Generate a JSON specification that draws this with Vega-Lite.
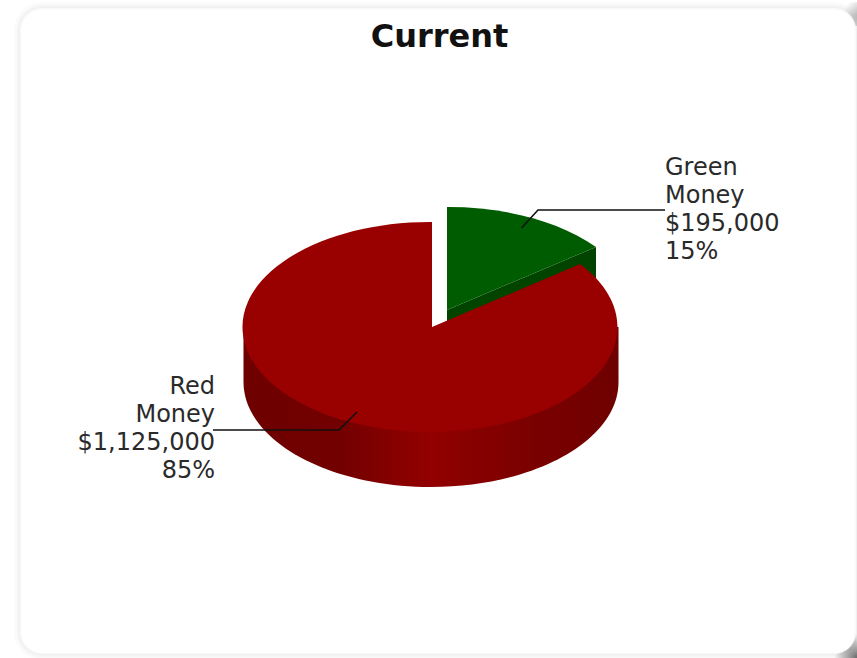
{
  "$schema": "https://vega.github.io/schema/vega-lite/v6.json",
  "width": 857,
  "height": 658,
  "padding": 0,
  "autosize": "none",
  "background": "white",
  "view": {"stroke": null},
  "title": {
    "text": "Current",
    "font": "DejaVu Sans",
    "fontSize": 32,
    "fontWeight": "bold",
    "color": "#111111",
    "anchor": "middle",
    "frame": "group",
    "dx": 11,
    "offset": -54
  },
  "data": {
    "values": [
      {"slice": "Green Money", "amount": 195000, "share": 15, "label": "Green\nMoney\n$195,000\n15%"},
      {"slice": "Red Money", "amount": 1125000, "share": 85, "label": "Red\nMoney\n$1,125,000\n85%"}
    ]
  },
  "encoding": {
    "x": {"field": "slice", "type": "nominal", "axis": null, "scale": {"type": "point", "domain": ["Green Money", "Red Money"], "range": [446, 431], "padding": 0}},
    "y": {"field": "slice", "type": "nominal", "axis": null, "scale": {"type": "point", "domain": ["Green Money", "Red Money"], "range": [312, 327], "padding": 0}}
  },
  "layer": [
    {
      "data": {"values": [{}]},
      "mark": {"type": "rect", "fill": {"gradient": "radial", "x1": 1, "y1": 1, "x2": 1, "y2": 1, "r1": 0, "r2": 1, "stops": [{"offset": 0, "color": "#666666"}, {"offset": 1, "color": "#ffffff"}]}},
      "encoding": {"x": {"value": 835}, "x2": {"value": 857}, "y": {"value": 634}, "y2": {"value": 658}}
    },
    {
      "data": {"values": [{}]},
      "mark": {"type": "rect", "fill": {"gradient": "radial", "x1": 1, "y1": 0.6, "x2": 1, "y2": 0.6, "r1": 0, "r2": 0.8, "stops": [{"offset": 0, "color": "#a8a8a8"}, {"offset": 1, "color": "#ffffff"}]}},
      "encoding": {"x": {"value": 843}, "x2": {"value": 857}, "y": {"value": 2}, "y2": {"value": 26}}
    },
    {
      "data": {"values": [{}]},
      "mark": {"type": "rect", "fill": "transparent", "stroke": "#000000", "strokeOpacity": 0.015, "strokeWidth": 12, "cornerRadius": 22},
      "encoding": {"x": {"value": 20}, "x2": {"value": 856}, "y": {"value": 8}, "y2": {"value": 654}}
    },
    {
      "data": {"values": [{}]},
      "mark": {"type": "rect", "fill": "transparent", "stroke": "#000000", "strokeOpacity": 0.02, "strokeWidth": 7, "cornerRadius": 22},
      "encoding": {"x": {"value": 20}, "x2": {"value": 856}, "y": {"value": 8}, "y2": {"value": 654}}
    },
    {
      "data": {"values": [{}]},
      "mark": {"type": "rect", "fill": "#ffffff", "stroke": "#000000", "strokeOpacity": 0.025, "strokeWidth": 3, "cornerRadius": 22},
      "encoding": {"x": {"value": 20}, "x2": {"value": 856}, "y": {"value": 8}, "y2": {"value": 654}}
    },
    {
      "transform": [{"filter": "datum.slice === 'Green Money'"}],
      "mark": {"type": "point", "size": 4, "filled": true, "opacity": 1, "strokeWidth": 0, "fill": "#004400", "shape": "M1,-2 L150,-65 L150,-30 L1,55 Z"}
    },
    {
      "transform": [{"filter": "datum.slice === 'Green Money'"}],
      "mark": {"type": "point", "size": 4, "filled": true, "opacity": 1, "strokeWidth": 0, "fill": "#005c00", "shape": "M1,-2 L1,-105 A187.5,105 0 0 1 150,-65 Z"}
    },
    {
      "transform": [{"filter": "datum.slice === 'Red Money'"}],
      "mark": {
        "type": "point", "size": 4, "filled": true, "opacity": 1, "strokeWidth": 0,
        "fill": {"gradient": "linear", "x1": 0, "y1": 0, "x2": 1, "y2": 0, "stops": [
          {"offset": 0, "color": "#6e0000"},
          {"offset": 0.25, "color": "#720000"},
          {"offset": 0.36, "color": "#800000"},
          {"offset": 0.5, "color": "#930000"},
          {"offset": 0.6, "color": "#880000"},
          {"offset": 0.78, "color": "#7a0000"},
          {"offset": 1, "color": "#6e0000"}
        ]},
        "shape": "M-187.5,0 L-187.5,55 A187.5,105 0 0 0 187.5,55 L187.5,0 Z"
      }
    },
    {
      "transform": [{"filter": "datum.slice === 'Red Money'"}],
      "mark": {"type": "point", "size": 4, "filled": true, "opacity": 1, "strokeWidth": 0, "fill": "#990000", "shape": "M1,0 L1,-105 A187.5,105 0 1 0 149,-63 Z"}
    },
    {
      "transform": [{"filter": "datum.slice === 'Green Money'"}],
      "mark": {"type": "point", "size": 4, "filled": false, "opacity": 1, "stroke": "#111111", "strokeWidth": 1.6, "shape": "M75.5,-84 L92,-102 L219,-102"}
    },
    {
      "transform": [{"filter": "datum.slice === 'Red Money'"}],
      "mark": {"type": "point", "size": 4, "filled": false, "opacity": 1, "stroke": "#111111", "strokeWidth": 1.6, "shape": "M-74,85 L-92,103 L-218,103"}
    },
    {
      "transform": [{"filter": "datum.slice === 'Green Money'"}],
      "mark": {"type": "text", "font": "DejaVu Sans", "fontSize": 24, "lineHeight": 28, "lineBreak": "\n", "align": "left", "baseline": "top", "dx": 219, "dy": -156, "color": "#2a2a2a"},
      "encoding": {"text": {"field": "label"}}
    },
    {
      "transform": [{"filter": "datum.slice === 'Red Money'"}],
      "mark": {"type": "text", "font": "DejaVu Sans", "fontSize": 24, "lineHeight": 28, "lineBreak": "\n", "align": "right", "baseline": "top", "dx": -216, "dy": 48, "color": "#2a2a2a"},
      "encoding": {"text": {"field": "label"}}
    }
  ]
}
